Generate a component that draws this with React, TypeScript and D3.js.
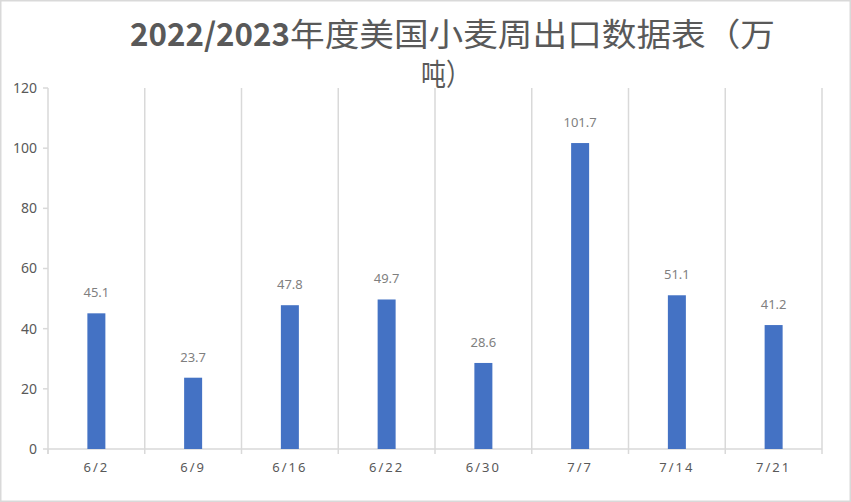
import React from "react";
import * as d3 from "d3";

const categories = ["6/2", "6/9", "6/16", "6/22", "6/30", "7/7", "7/14", "7/21"];
const values = [45.1, 23.7, 47.8, 49.7, 28.6, 101.7, 51.1, 41.2];
const yTicks = [0, 20, 40, 60, 80, 100, 120];
const titleYear = "2022/2023";
const titleLine1 = "年度美国小麦周出口数据表（万";
const titleLine2 = "吨）";

const W = 851;
const H = 502;
const M = { left: 48, right: 822, top: 88, bottom: 449 };

export default function App() {
  const x = d3.scaleBand<string>().domain(categories).range([M.left, M.right]).paddingInner(0).paddingOuter(0);
  const y = d3.scaleLinear().domain([0, 120]).range([M.bottom, M.top]);
  const barW = 18;
  const grid = "#d9d9d9";
  const bounds = categories.map((c) => x(c) as number).concat([M.right]);
  const font = "'Noto Sans', 'Noto Sans CJK SC', sans-serif";
  const tf = "'Noto Sans CJK SC', sans-serif";

  return (
    <svg width={W} height={H} style={{ position: "absolute", left: 0, top: 0, background: "#fff" }} fontFamily={font}>
      <rect x={0.75} y={0.75} width={W - 1.5} height={H - 1.5} fill="#fff" stroke={grid} strokeWidth={1.5} />
      <text fill="#595959" fontSize={32} fontFamily={tf} fontWeight="bold" x={130} y={46} textLength={160} lengthAdjust="spacingAndGlyphs">
        {titleYear}
      </text>
      <text fill="#595959" fontSize={32} fontFamily={tf} x={290} y={46} textLength={485} lengthAdjust="spacingAndGlyphs">
        {titleLine1}
      </text>
      <text fill="#595959" fontSize={30} fontFamily={tf} x={421} y={85} textLength={50} lengthAdjust="spacingAndGlyphs">
        {titleLine2}
      </text>
      {/* vertical gridlines */}
      {bounds.slice(1).map((b, i) => (
        <line key={"g" + i} x1={b} x2={b} y1={M.top} y2={M.bottom} stroke={grid} strokeWidth={1.5} />
      ))}
      {/* y axis */}
      <line x1={M.left} x2={M.left} y1={M.top} y2={M.bottom + 5} stroke={grid} strokeWidth={1.5} />
      {yTicks.map((t) => (
        <g key={"y" + t}>
          <line x1={M.left - 5} x2={M.left} y1={y(t)} y2={y(t)} stroke={grid} strokeWidth={1.5} />
          <text x={37} y={y(t)} dy="0.35em" textAnchor="end" fontSize={14} fill="#595959">
            {t}
          </text>
        </g>
      ))}
      {/* x axis */}
      <line x1={M.left} x2={M.right} y1={M.bottom} y2={M.bottom} stroke={grid} strokeWidth={1.5} />
      {bounds.map((b, i) => (
        <line key={"xt" + i} x1={b} x2={b} y1={M.bottom} y2={M.bottom + 5} stroke={grid} strokeWidth={1.5} />
      ))}
      {categories.map((c) => (
        <text
          key={"xl" + c}
          x={(x(c) as number) + x.bandwidth() / 2}
          y={472}
          textAnchor="middle"
          fontSize={13}
          fill="#595959"
          letterSpacing={2}
        >
          {c}
        </text>
      ))}
      {/* bars */}
      {categories.map((c, i) => {
        const cx = (x(c) as number) + x.bandwidth() / 2;
        return (
          <g key={"b" + c}>
            <rect x={cx - barW / 2} y={y(values[i])} width={barW} height={M.bottom - y(values[i])} fill="#4472c4" />
            <text x={cx} y={y(values[i]) - 16} textAnchor="middle" fontSize={13} fill="#7f7f7f">
              {values[i]}
            </text>
          </g>
        );
      })}
    </svg>
  );
}
